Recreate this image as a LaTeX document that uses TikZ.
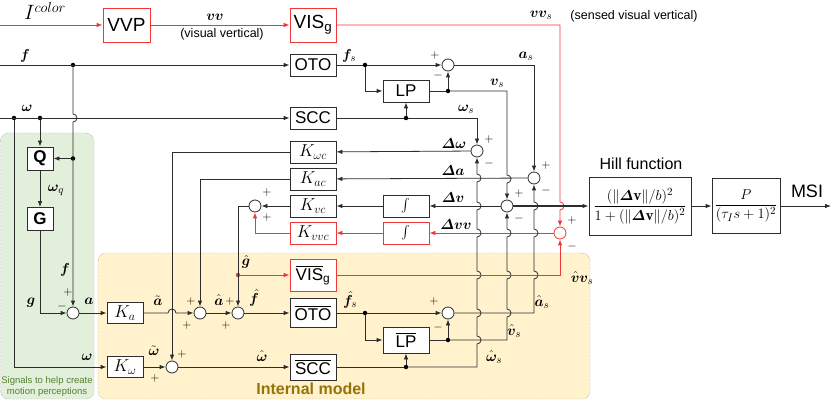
\documentclass[tikz,border=0pt]{standalone}
\usepackage{amsmath,amssymb,bm}
\usepackage{fontspec}
\setsansfont{Liberation Sans}
\usetikzlibrary{arrows.meta, positioning, calc, backgrounds}

\definecolor{sigred}{RGB}{240,55,55}
\definecolor{linegray}{RGB}{45,45,45}
\definecolor{greenbg}{RGB}{226,239,218}
\definecolor{yellowbg}{RGB}{255,242,204}
\definecolor{greentxt}{RGB}{84,130,53}
\definecolor{goldtxt}{RGB}{150,115,10}

\tikzset{
  blk/.style={draw=linegray, fill=white, line width=0.8pt, inner sep=0pt,
              minimum width=46pt, minimum height=22pt,
              font=\sffamily\fontsize{17}{17}\selectfont},
  redblk/.style={blk, draw=sigred},
  kblk/.style={blk, font=\fontsize{17}{17}\selectfont},
  sumc/.style={circle, draw=linegray, fill=white, line width=0.8pt,
               minimum size=12pt, inner sep=0pt},
  redsum/.style={sumc, draw=sigred},
  dot/.style={circle, fill=black, inner sep=0pt, minimum size=4.5pt},
  wire/.style={draw=linegray, line width=0.8pt},
  sig/.style={wire, -{Latex[length=6pt,width=4.5pt]}},
  rsig/.style={sig, draw=sigred},
  lbl/.style={font=\fontsize{15}{15}\selectfont, inner sep=0pt},
  txt/.style={font=\sffamily\fontsize{12.5}{12.5}\selectfont, inner sep=0pt},
  pm/.style={font=\fontsize{13}{13}\selectfont, inner sep=0pt},
  % jumps over crossing lines
  hopup/.style={insert path={-- ($(#1)+(0,4)$) arc[start angle=90,end angle=-90,radius=4]}},
  hopdn/.style={insert path={-- ($(#1)+(0,-4)$) arc[start angle=-90,end angle=90,radius=4]}},
  hopr/.style={insert path={-- ($(#1)+(-4,0)$) arc[start angle=180,end angle=360,radius=4]}},
}

\begin{document}
\begin{tikzpicture}[x=1pt, y=-1pt]
  \useasboundingbox (0,0) rectangle (831,401);

  % Regions
  \draw[gray, densely dotted, fill=greenbg, rounded corners=8pt] (0.5,133) rectangle (94,399);
  \draw[gray, densely dotted, fill=yellowbg, rounded corners=8pt] (98,253) rectangle (590,399);
  \node[font=\sffamily\fontsize{9.5}{11}\selectfont, text=greentxt, align=center]
    (l-sig) at (47,387) {Signals to help create\\motion perceptions};
  \node[font=\sffamily\bfseries\fontsize{16}{16}\selectfont, text=goldtxt]
    (l-im) at (311,389) {Internal model};

  % Blocks
  \node[redblk, minimum width=47pt, minimum height=34pt, font=\sffamily\fontsize{19}{19}\selectfont] (vvp) at (126.5,25) {VVP};
  \node[redblk, minimum height=34pt, font=\sffamily\fontsize{19}{19}\selectfont] (vis) at (313,25) {VIS\textsubscript{g}};
  \node[blk] (oto) at (313,65) {OTO};
  \node[blk] (lp) at (406,91) {LP};
  \node[blk] (scc) at (313,118) {SCC};
  \node[kblk] (kwc) at (313,152) {$K_{\omega c}$};
  \node[kblk] (kac) at (313,179) {$K_{ac}$};
  \node[kblk] (kvc) at (313,206) {$K_{vc}$};
  \node[kblk, draw=sigred] (kvvc) at (313,233) {$K_{vvc}$};
  \node[blk, font=\fontsize{13}{13}\selectfont] (int1) at (406,206) {$\int$};
  \node[blk, draw=sigred, font=\fontsize{13}{13}\selectfont] (int2) at (406,233) {$\int$};
  \node[redblk, minimum height=32pt] (visbar) at (313,275) {$\overline{\mbox{VIS}}$\textsubscript{g}};
  \node[blk, minimum height=29pt] (otobar) at (313,313) {$\overline{\mbox{OTO}}$};
  \node[blk, minimum height=26pt] (lpbar) at (406,340) {$\overline{\mbox{LP}}$};
  \node[blk, minimum height=26pt] (sccbar) at (313,367) {$\overline{\mbox{SCC}}$};
  \node[blk, minimum width=26pt, minimum height=23pt, font=\sffamily\bfseries\fontsize{17}{17}\selectfont] (qbox) at (40,158.5) {Q};
  \node[blk, minimum width=26pt, minimum height=23pt, font=\sffamily\bfseries\fontsize{17}{17}\selectfont] (gbox) at (40,219) {G};
  \node[kblk, minimum width=36pt, minimum height=21pt] (ka) at (125,313) {$K_a$};
  \node[kblk, minimum width=36pt, minimum height=21pt] (kw) at (125,367) {$K_\omega$};
  \node[blk, minimum width=102pt, minimum height=58pt, font=\fontsize{15.5}{15.5}\selectfont] (hill) at (640,206)
    {$\dfrac{(\|\bm{\varDelta}\mathbf{v}\|/b)^2}{1+(\|\bm{\varDelta}\mathbf{v}\|/b)^2}$};
  \node[blk, minimum width=68pt, minimum height=55pt, font=\fontsize{15.5}{15.5}\selectfont] (pbox) at (746,206)
    {$\dfrac{P}{(\tau_I s+1)^2}$};

  % Summing junctions
  \node[sumc] (sumas) at (448,65) {};
  \node[sumc] (sumash) at (448,313) {};
  \node[sumc] (sumdw) at (477,151) {};
  \node[sumc] (sumda) at (534,178) {};
  \node[sumc] (sumdv) at (507,206) {};
  \node[redsum] (sumvv) at (560,233) {};
  \node[sumc] (suma) at (73,313) {};
  \node[sumc] (sumahat) at (200,313) {};
  \node[sumc] (sumfhat) at (238,313) {};
  \node[sumc] (sumwhat) at (172,367) {};
  \node[sumc] (sumg) at (255,206) {};

  % Branch points
  \coordinate (icol) at (0,25);
  \coordinate (fin) at (0,65);
  \coordinate (win) at (0,118);
  \coordinate (msiout) at (831,206);
  \node[dot] (fdot) at (73,65) {};
  \node[dot] (wdot1) at (14,118) {};
  \node[dot] (wdot2) at (40,118) {};
  \node[dot] (fqdot) at (73,158.5) {};
  \node[dot] (fsdot) at (365,65) {};
  \node[dot] (vsdot) at (448,91) {};
  \node[dot] (wsdot) at (406,118) {};
  \node[dot] (fshdot) at (365,313) {};
  \node[dot] (vshdot) at (448,340) {};
  \node[dot] (wshdot) at (406,367) {};
  \node[dot, fill=sigred] (ghatdot) at (238,275) {};

  % Visual path
  \draw[rsig] (icol) -- (vvp);
  \draw[rsig] (vvp) -- (vis);
  \draw[rsig] (vis) -- (vis -| sumvv) [hopdn={sumvv|-sumdv}] -- (sumvv);

  % Inputs and motion cues
  \draw[sig] (fin) -- (oto);
  \draw[sig] (win) -- (scc);
  \draw[sig] (fdot) [hopdn={fdot|-scc}] -- (suma);
  \draw[sig] (fqdot) -- (qbox);
  \draw[sig] (wdot2) -- (qbox);
  \draw[sig] (qbox) -- (gbox);
  \draw[sig] (gbox) |- (suma);
  \draw[sig] (wdot1) |- (kw);

  % Internal model
  \draw[sig] (suma) -- (ka);
  \draw[sig] (ka) [hopr={sumwhat|-ka}] -- (sumahat);
  \draw[sig] (kwc) -| (sumwhat);
  \draw[sig] (kac) -| (sumahat);
  \draw[sig] (sumahat) -- (sumfhat);
  \draw[sig] (kvc) -- (sumg);
  \draw[rsig] (kvvc) -| (sumg);
  \draw[sig] (sumg) -| (sumfhat);
  \draw[rsig] (ghatdot) -- (visbar);
  \draw[sig] (sumfhat) -- (otobar);
  \draw[sig] (kw) -- (sumwhat);
  \draw[sig] (sumwhat) -- (sccbar);

  % Sensors
  \draw[wire] (oto) -- (fsdot);
  \draw[sig] (fsdot) -- (sumas);
  \draw[sig] (fsdot) |- (lp);
  \draw[wire] (lp) -- (vsdot);
  \draw[sig] (vsdot) -- (sumas);
  \draw[sig] (vsdot) -- (vsdot -| sumdv) [hopdn={sumdv|-kac}] -- (sumdv);
  \draw[sig] (sumas) -| (sumda);
  \draw[wire] (scc) -- (wsdot);
  \draw[sig] (wsdot) -- (lp);
  \draw[sig] (wsdot) -| (sumdw);

  % Conflict signals
  \draw[sig] (sumdw) -- (kwc);
  \draw[sig] (sumda) -- (kac);
  \draw[sig] (sumdv) -- (int1);
  \draw[sig] (int1) -- (kvc);
  \draw[rsig] (sumvv) -- (int2);
  \draw[rsig] (int2) -- (kvvc);
  \draw[sig, line width=2pt] (sumdv) -- (hill);
  \draw[sig] (hill) -- (pbox);
  \draw[sig] (pbox) -- (msiout);

  % Internal sensors
  \draw[wire] (otobar) -- (fshdot);
  \draw[sig] (fshdot) -- (sumash);
  \draw[sig] (fshdot) |- (lpbar);
  \draw[wire] (lpbar) -- (vshdot);
  \draw[sig] (vshdot) -- (sumash);
  \draw[sig] (vshdot) -- (vshdot -| sumdv) [hopup={sumdv|-otobar}] [hopup={sumdv|-visbar}]
    [hopup={sumdv|-sumvv}] -- (sumdv);
  \draw[sig] (sumash) -- (sumash -| sumda) [hopup={sumda|-visbar}] [hopup={sumda|-sumvv}]
    [hopup={sumda|-sumdv}] -- (sumda);
  \draw[wire] (sccbar) -- (wshdot);
  \draw[sig] (wshdot) -- (lpbar);
  \draw[sig] (wshdot) -- (wshdot -| sumdw) [hopup={sumdw|-lpbar}] [hopup={sumdw|-otobar}]
    [hopup={sumdw|-visbar}] [hopup={sumdw|-sumvv}] [hopup={sumdw|-sumdv}]
    [hopup={sumdw|-sumda}] -- (sumdw);
  \draw[rsig] (visbar) -| (sumvv);

  % Signal labels
  \node[lbl, font=\fontsize{21}{21}\selectfont] (l-icol) at (45,11) {$I^{color}$};
  \node[lbl] (l-vv) at (215,17) {$\bm{vv}$};
  \node[txt] (l-visv) at (222,34) {(visual vertical)};
  \node[lbl] (l-vvs) at (541,15) {$\bm{vv}_s$};
  \node[txt] (l-svv) at (634,16) {(sensed visual vertical)};
  \node[lbl] (l-f) at (25,56) {$\bm{f}$};
  \node[lbl] (l-w) at (27,108) {$\bm{\omega}$};
  \node[lbl] (l-wq) at (56,190) {$\bm{\omega}_q$};
  \node[lbl] (l-fv) at (65,270) {$\bm{f}$};
  \node[lbl] (l-g) at (31,303) {$\bm{g}$};
  \node[lbl] (l-a) at (89,301) {$\bm{a}$};
  \node[lbl] (l-at) at (158,301) {$\tilde{\bm{a}}$};
  \node[lbl] (l-ah) at (219,300) {$\hat{\bm{a}}$};
  \node[lbl] (l-wt) at (154,351) {$\tilde{\bm{\omega}}$};
  \node[lbl] (l-wv) at (87,357) {$\bm{\omega}$};
  \node[lbl] (l-gh) at (246,262) {$\hat{\bm{g}}$};
  \node[lbl] (l-fh) at (254,298) {$\hat{\bm{f}}$};
  \node[lbl] (l-wh) at (262,356) {$\hat{\bm{\omega}}$};
  \node[lbl] (l-fs) at (349,56) {$\bm{f}_s$};
  \node[lbl] (l-as) at (526,56) {$\bm{a}_s$};
  \node[lbl] (l-vs) at (497,83) {$\bm{v}_s$};
  \node[lbl] (l-ws) at (466,109) {$\bm{\omega}_s$};
  \node[lbl] (l-dw) at (454,144) {$\bm{\varDelta\omega}$};
  \node[lbl] (l-da) at (453,171) {$\bm{\varDelta a}$};
  \node[lbl] (l-dv) at (453,198) {$\bm{\varDelta v}$};
  \node[lbl] (l-dvv) at (456,225) {$\bm{\varDelta vv}$};
  \node[lbl] (l-fhs) at (350,300) {$\hat{\bm{f}}_s$};
  \node[lbl] (l-ahs) at (542,302) {$\hat{\bm{a}}_s$};
  \node[lbl] (l-vhs) at (514,331) {$\hat{\bm{v}}_s$};
  \node[lbl] (l-whs) at (494,357) {$\hat{\bm{\omega}}_s$};
  \node[lbl] (l-vvhs) at (582,278) {$\hat{\bm{v}}\bm{v}_s$};
  \node[font=\sffamily\fontsize{16}{16}\selectfont] (l-hill) at (641,164) {Hill function};
  \node[font=\sffamily\fontsize{18}{18}\selectfont] (l-msi) at (807,191) {MSI};

  % Signs
  \node[pm] (p-as) at (435,56) {$+$};  \node[pm] (m-as) at (438,76) {$-$};
  \node[pm] (p-ash) at (434,302) {$+$}; \node[pm] (m-ash) at (438,327) {$-$};
  \node[pm] (p-dw) at (489,140) {$+$}; \node[pm] (m-dw) at (489,164) {$-$};
  \node[pm] (p-da) at (546,166) {$+$}; \node[pm] (m-da) at (546,191) {$-$};
  \node[pm] (p-dv) at (519,194) {$+$}; \node[pm] (m-dv) at (519,219) {$-$};
  \node[pm] (p-vv) at (572,221) {$+$}; \node[pm] (m-vv) at (572,247) {$-$};
  \node[pm] (p-g1) at (267,193) {$+$}; \node[pm] (p-g2) at (267,218) {$+$};
  \node[pm] (m-a) at (62,306) {$-$};   \node[pm] (p-a) at (68,292) {$+$};
  \node[pm] (p-ah1) at (191,301) {$+$}; \node[pm] (p-ah2) at (187,325) {$+$};
  \node[pm] (p-fh1) at (230,301) {$+$}; \node[pm] (p-fh2) at (226,325) {$+$};
  \node[pm] (p-wh1) at (182,354) {$+$}; \node[pm] (p-wh2) at (155,378) {$+$};
\end{tikzpicture}
\end{document}
